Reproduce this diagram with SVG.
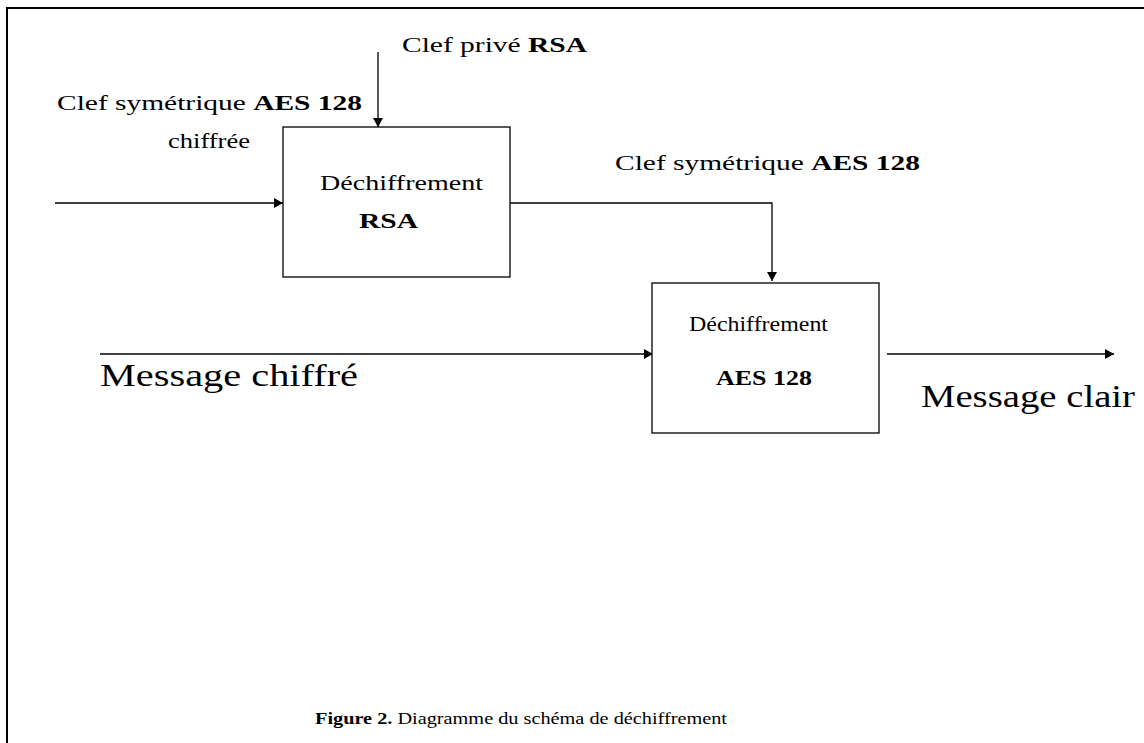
<svg xmlns="http://www.w3.org/2000/svg" width="1144" height="743" viewBox="0 0 1144 743">
<defs>
<style>
text{font-family:"Liberation Serif","DejaVu Serif",serif;fill:#000}
.s{font-size:21px}
.b{font-weight:bold}
.l{font-size:31px}
.c{font-size:16px}
.box{fill:#fff;stroke:#000;stroke-width:1.3}
.ln{fill:none;stroke:#000;stroke-width:1.3}
</style>
<marker id="ah" markerWidth="10" markerHeight="10" refX="9" refY="5" orient="auto" markerUnits="userSpaceOnUse">
<path d="M0,0 L9,5 L0,10 Z" fill="#000"/>
</marker>
</defs>
<rect width="1144" height="743" fill="#fff"/>
<path d="M7,743 V8 H1144" fill="none" stroke="#000" stroke-width="2"/>
<g id="connectors">
<path class="ln" d="M378,52 V127" marker-end="url(#ah)"/>
<path class="ln" d="M55,203 H283" marker-end="url(#ah)"/>
<path class="ln" d="M510,203 H772 V281" marker-end="url(#ah)"/>
<path class="ln" d="M100,354 H653" marker-end="url(#ah)"/>
<path class="ln" d="M887,354 H1114" marker-end="url(#ah)"/>
</g>
<g id="node-rsa">
<rect class="box" x="283" y="127" width="227" height="150"/>
<text class="s" x="320" y="190" textLength="163" lengthAdjust="spacingAndGlyphs">Déchiffrement</text>
<text class="s b" x="359" y="228" textLength="59" lengthAdjust="spacingAndGlyphs">RSA</text>
</g>
<g id="node-aes">
<rect class="box" x="652" y="283" width="227" height="150"/>
<text class="s" x="689" y="331" textLength="139" lengthAdjust="spacingAndGlyphs">Déchiffrement</text>
<text class="s b" x="716" y="385" textLength="96" lengthAdjust="spacingAndGlyphs">AES 128</text>
</g>
<g id="labels">
<text class="s" x="402" y="52" textLength="185" lengthAdjust="spacingAndGlyphs">Clef privé <tspan class="b">RSA</tspan></text>
<text class="s" x="57" y="110" textLength="305" lengthAdjust="spacingAndGlyphs">Clef symétrique <tspan class="b">AES 128</tspan></text>
<text class="s" x="168" y="148" textLength="82" lengthAdjust="spacingAndGlyphs">chiffrée</text>
<text class="s" x="615" y="170" textLength="305" lengthAdjust="spacingAndGlyphs">Clef symétrique <tspan class="b">AES 128</tspan></text>
<text class="l" x="100" y="386" textLength="258" lengthAdjust="spacingAndGlyphs">Message chiffré</text>
<text class="l" x="921" y="407" textLength="214" lengthAdjust="spacingAndGlyphs">Message clair</text>
<text class="c" x="315" y="724" textLength="412" lengthAdjust="spacingAndGlyphs"><tspan class="b">Figure 2.</tspan> Diagramme du schéma de déchiffrement</text>
</g>
</svg>
